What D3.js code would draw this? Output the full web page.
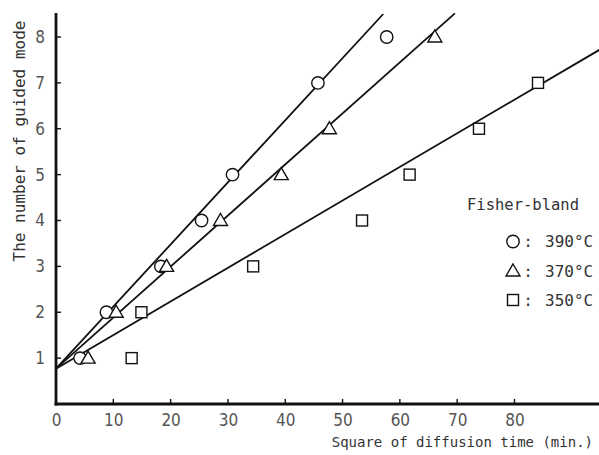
<!DOCTYPE html>
<html><head><meta charset="utf-8">
<script src="https://cdn.jsdelivr.net/npm/d3@7"></script>
<style>body{margin:0;background:#fff}svg{display:block}</style>
</head><body>
<svg id="c" width="599" height="455"></svg>
<script>
// ---- data ----
const seriesNames = ["390°C", "370°C", "350°C"];
const seriesShapes = ["circle", "triangle", "square"];
const x390 = [4.2, 8.8, 18.3, 25.4, 30.8, 45.7, 57.7];
const y390 = [1, 2, 3, 4, 5, 7, 8];
const x370 = [5.6, 10.5, 19.3, 28.7, 39.3, 47.7, 66.1];
const y370 = [1, 2, 3, 4, 5, 6, 8];
const x350 = [13.2, 14.9, 34.4, 53.4, 61.7, 73.8, 84.1];
const y350 = [1, 2, 3, 4, 5, 6, 7];
const fitIntercept = [0.77, 0.77, 0.77];
const fitSlope = [0.1354, 0.1113, 0.0733];
const fitEndX = [57.1, 69.6, 94.8];
const xTicks = [0, 10, 20, 30, 40, 50, 60, 70, 80];
const yTicks = [1, 2, 3, 4, 5, 6, 7, 8];
const xTitle = "Square of diffusion time (min.)";
const yTitle = "The number of guided mode";
const legendTitle = "Fisher-bland";

const xs = [x390, x370, x350], ys = [y390, y370, y350];

const svg = d3.select("#c");
const x = d3.scaleLinear().domain([0, 80]).range([56, 514.5]);
const y = d3.scaleLinear().domain([0, 8]).range([404, 37]);
const xMax = x.invert(599), yMax = y.invert(13);

// fit lines
fitSlope.forEach((s, i) => {
  const x1 = fitEndX[i];
  svg.append("line")
    .attr("x1", x(0)).attr("y1", y(fitIntercept[i]))
    .attr("x2", x(x1)).attr("y2", y(fitIntercept[i] + s * x1))
    .attr("stroke", "#111").attr("stroke-width", 1.8);
});

// axes
const ax = svg.append("g").attr("transform", `translate(0,${y(0)})`)
  .call(d3.axisBottom(x).tickValues(xTicks).tickSize(0).tickPadding(10).tickFormat(d3.format("d")));
ax.select(".domain").remove();
const ay = svg.append("g").attr("transform", `translate(${x(0)},0)`)
  .call(d3.axisLeft(y).tickValues(yTicks).tickSize(0).tickPadding(11).tickFormat(d3.format("d")));
ay.select(".domain").remove();
[ax, ay].forEach(g => g.selectAll("text")
  .attr("font-family", "'DejaVu Sans Condensed', 'Liberation Sans', Arial, sans-serif")
  .attr("font-weight", 300)
  .attr("font-size", 17).attr("fill", "#555"));

// tick marks (inside)
svg.selectAll(".xt").data(xTicks.filter(d => d > 0)).join("line")
  .attr("x1", d => x(d)).attr("x2", d => x(d))
  .attr("y1", y(0)).attr("y2", y(0) - 5)
  .attr("stroke", "#111").attr("stroke-width", 1.4);
svg.selectAll(".yt").data(yTicks).join("line")
  .attr("x1", x(0)).attr("x2", x(0) + 5)
  .attr("y1", d => y(d)).attr("y2", d => y(d))
  .attr("stroke", "#111").attr("stroke-width", 1.4);

svg.append("line").attr("x1", x(0)).attr("x2", x(0))
  .attr("y1", y(0) + 1.5).attr("y2", y(yMax))
  .attr("stroke", "#111").attr("stroke-width", 2.8);
svg.append("line").attr("x1", x(0) - 1.4).attr("x2", x(xMax))
  .attr("y1", y(0)).attr("y2", y(0))
  .attr("stroke", "#111").attr("stroke-width", 2.8);

// markers
function marker(g, shape, cx, cy) {
  if (shape === "circle") {
    g.append("circle").attr("cx", cx).attr("cy", cy).attr("r", 6.2)
      .attr("fill", "#fff").attr("stroke", "#111").attr("stroke-width", 1.4);
  } else if (shape === "triangle") {
    g.append("path").attr("d", `M${cx},${cy - 7}L${cx + 7},${cy + 5}L${cx - 7},${cy + 5}Z`)
      .attr("fill", "#fff").attr("stroke", "#111").attr("stroke-width", 1.4);
  } else {
    g.append("rect").attr("x", cx - 5.5).attr("y", cy - 5.5).attr("width", 11).attr("height", 11)
      .attr("fill", "#fff").attr("stroke", "#111").attr("stroke-width", 1.4);
  }
}
const mg = svg.append("g");
xs.forEach((arr, i) => arr.forEach((v, j) => marker(mg, seriesShapes[i], x(v), y(ys[i][j]))));

// titles
const mono = "'DejaVu Sans Mono', 'Liberation Mono', monospace";
svg.append("text").attr("x", 593).attr("y", 447).attr("text-anchor", "end")
  .attr("font-family", mono).attr("font-size", 14).attr("fill", "#333").text(xTitle);
svg.append("text").attr("transform", "translate(25,141) rotate(-90)").attr("text-anchor", "middle")
  .attr("font-family", mono).attr("font-size", 16).attr("fill", "#333").text(yTitle);

// legend
svg.append("text").attr("x", 467).attr("y", 210)
  .attr("font-family", mono).attr("font-size", 15.5).attr("fill", "#333").text(legendTitle);
const rowY = [241.5, 271, 300];
seriesNames.forEach((n, i) => {
  marker(svg, seriesShapes[i], 513, rowY[i]);
  svg.append("text").attr("x", 528).attr("y", rowY[i] + 5.5).attr("text-anchor", "middle")
    .attr("font-family", mono).attr("font-size", 16).attr("fill", "#333").text(":");
  svg.append("text").attr("x", 545).attr("y", rowY[i] + 5.5)
    .attr("font-family", mono).attr("font-size", 16).attr("fill", "#333").text(n);
});
</script>
</body></html>
